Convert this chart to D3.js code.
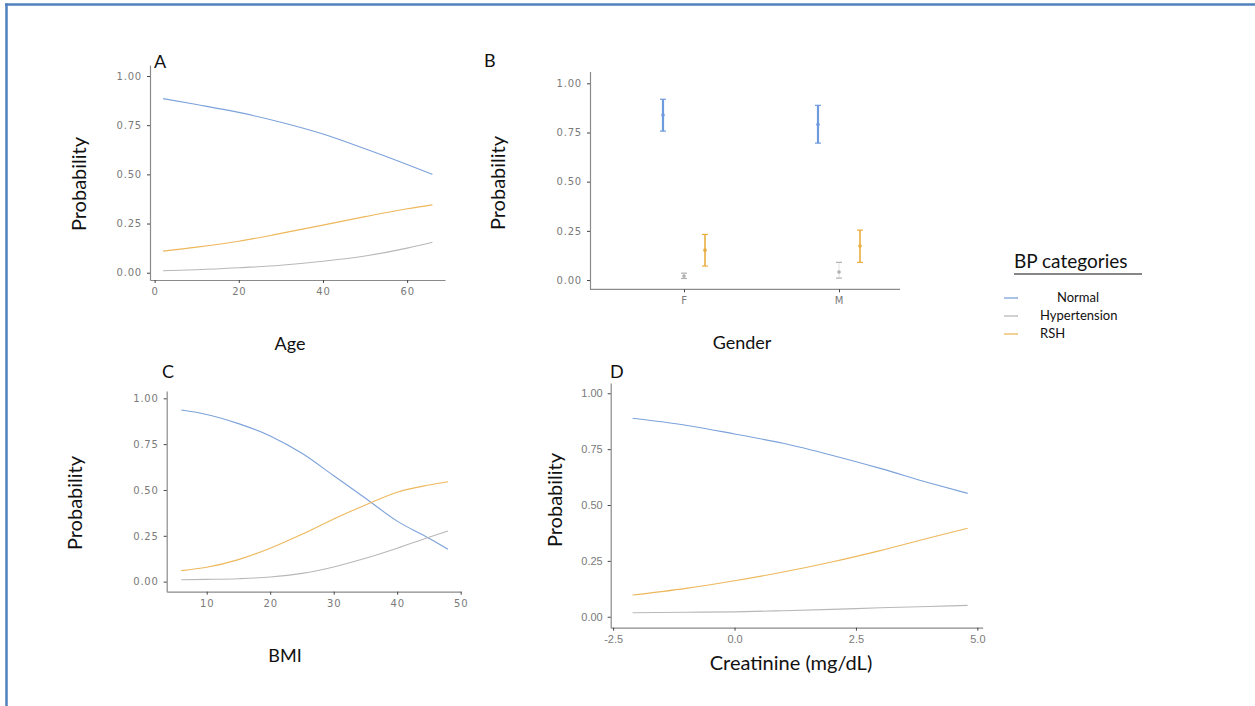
<!DOCTYPE html>
<html>
<head>
<meta charset="utf-8">
<script src="https://cdn.jsdelivr.net/npm/d3@7"></script>
<style>
  html, body { margin: 0; padding: 0; background: #fff; }
  svg { display: block; }
</style>
</head>
<body>
<svg id="fig" width="1255" height="706"></svg>
<script>
// ---- Predicted probabilities by BP category ----
const seriesNames = ["Normal", "Hypertension", "RSH"];
const seriesColors = ["#7ca2da", "#b8b8b8", "#edb85c"];

// A: Age
const ageX      = [2, 10, 20, 30, 40, 50, 60, 66];
const ageNormal = [0.885, 0.855, 0.815, 0.765, 0.705, 0.630, 0.550, 0.500];
const ageHyper  = [0.010, 0.015, 0.025, 0.038, 0.058, 0.085, 0.125, 0.155];
const ageRSH    = [0.110, 0.130, 0.160, 0.200, 0.242, 0.285, 0.325, 0.345];
const ageTicks  = [0, 20, 40, 60];

// B: Gender (mean with lower/upper interval)
const genderCats      = ["F", "M"];
const genderNormalMid = [0.839, 0.791];
const genderNormalLo  = [0.757, 0.696];
const genderNormalHi  = [0.919, 0.888];
const genderHyperMid  = [0.020, 0.041];
const genderHyperLo   = [0.008, 0.010];
const genderHyperHi   = [0.035, 0.090];
const genderRSHMid    = [0.152, 0.173];
const genderRSHLo     = [0.071, 0.090];
const genderRSHHi     = [0.232, 0.254];

// C: BMI
const bmiX      = [6, 10, 15, 20, 25, 30, 35, 40, 45, 48];
const bmiNormal = [0.936, 0.912, 0.862, 0.795, 0.700, 0.578, 0.455, 0.330, 0.237, 0.177];
const bmiHyper  = [0.010, 0.012, 0.016, 0.025, 0.045, 0.080, 0.127, 0.182, 0.242, 0.276];
const bmiRSH    = [0.060, 0.078, 0.120, 0.182, 0.258, 0.342, 0.418, 0.488, 0.527, 0.545];
const bmiTicks  = [10, 20, 30, 40, 50];

// D: Creatinine
const creatX      = [-2.1, -1, 0, 1, 2, 3, 4, 4.8];
const creatNormal = [0.888, 0.857, 0.818, 0.776, 0.723, 0.664, 0.600, 0.552];
const creatHyper  = [0.018, 0.020, 0.022, 0.027, 0.033, 0.040, 0.046, 0.051];
const creatRSH    = [0.097, 0.127, 0.161, 0.200, 0.245, 0.296, 0.352, 0.396];
const creatTicks  = [-2.5, 0, 2.5, 5];

const probTicks = [0, 0.25, 0.5, 0.75, 1];

const svg = d3.select("#fig");
svg.append("rect").attr("width", 1255).attr("height", 706).attr("fill", "#fff");

// page frame
svg.append("line").attr("x1", 5).attr("x2", 1255).attr("y1", 4.5).attr("y2", 4.5)
  .attr("stroke", "#4f81bd").attr("stroke-width", 2.5);
svg.append("line").attr("x1", 6.5).attr("x2", 6.5).attr("y1", 3.5).attr("y2", 706)
  .attr("stroke", "#4f81bd").attr("stroke-width", 2.5);

const titleFont = "Lato, 'Open Sans', sans-serif";

function styleAxis(g, font, size, spacing) {
  g.selectAll(".tick text")
    .attr("fill", "#7a7a7a")
    .style("font-family", font)
    .style("font-size", size + "px")
    .style("letter-spacing", spacing + "px");
  g.select(".domain").attr("stroke", "#8a8a8a").attr("stroke-width", 1.2);
  g.selectAll(".tick line").attr("stroke", "#444").attr("stroke-width", 1);
}

function yAxis(y, p) {
  const g = svg.append("g").attr("transform", `translate(${p.left},0)`)
    .call(d3.axisLeft(y).tickValues(probTicks).tickFormat(d3.format(".2f"))
      .tickSize(3).tickPadding(5).tickSizeOuter(0));
  styleAxis(g, p.tickFont, p.tickSize, p.tickSpacing);
}

function titles(p) {
  svg.append("text").attr("x", p.letterX).attr("y", p.letterY).text(p.letter)
    .style("font-family", titleFont).style("font-size", "18px").attr("fill", "#111");
  svg.append("text")
    .attr("transform", `translate(${p.yTitleX},${p.yTitleY}) rotate(-90)`)
    .attr("text-anchor", "middle").text("Probability")
    .style("font-family", titleFont).style("font-size", "20px").attr("fill", "#111");
  svg.append("text").attr("x", p.xTitleX).attr("y", p.xTitleY)
    .attr("text-anchor", "middle").text(p.xTitle)
    .style("font-family", titleFont).style("font-size", p.xTitleSize + "px").attr("fill", "#111");
}

function linePanel(p, xs, series, ticks, fmt) {
  const x = d3.scaleLinear().domain(p.xDomain).range([p.left, p.right]);
  const y = d3.scaleLinear().domain(p.yDomain).range([p.bottom, p.top]);
  yAxis(y, p);
  const gx = svg.append("g").attr("transform", `translate(0,${p.bottom})`)
    .call(d3.axisBottom(x).tickValues(ticks).tickFormat(fmt)
      .tickSize(3).tickPadding(5).tickSizeOuter(0));
  styleAxis(gx, p.tickFont, p.tickSize, p.tickSpacing);
  const line = d3.line().curve(d3.curveMonotoneX)
    .x((d, i) => x(xs[i])).y(d => y(d));
  series.forEach((vals, k) => {
    svg.append("path").attr("d", line(vals)).attr("fill", "none")
      .attr("stroke", seriesColors[k]).attr("stroke-width", 1.1);
  });
  titles(p);
}

// Panel A
linePanel({
  left: 150, right: 445, top: 65, bottom: 280,
  xDomain: [-1.1, 69], yDomain: [-0.037, 1.056],
  tickFont: "'DejaVu Sans', sans-serif", tickSize: 10, tickSpacing: 0.8,
  letter: "A", letterX: 154, letterY: 68,
  yTitleX: 86, yTitleY: 184, xTitle: "Age", xTitleX: 290, xTitleY: 350, xTitleSize: 18
}, ageX, [ageNormal, ageHyper, ageRSH], ageTicks, d3.format("d"));

// Panel C
linePanel({
  left: 166.7, right: 461, top: 391, bottom: 591.7,
  xDomain: [3.7, 50.05], yDomain: [-0.055, 1.04],
  tickFont: "'DejaVu Sans', sans-serif", tickSize: 10, tickSpacing: 0.8,
  letter: "C", letterX: 162, letterY: 378,
  yTitleX: 82, yTitleY: 503, xTitle: "BMI", xTitleX: 285, xTitleY: 662, xTitleSize: 18
}, bmiX, [bmiNormal, bmiHyper, bmiRSH], bmiTicks, d3.format("d"));

// Panel D
const hyphenFmt = d => d3.format(".1f")(d).replace("\u2212", "-");
linePanel({
  left: 610.7, right: 982.7, top: 383, bottom: 627.7,
  xDomain: [-2.55, 5.11], yDomain: [-0.049, 1.046],
  tickFont: "'Liberation Sans', Arial, sans-serif", tickSize: 11, tickSpacing: 0,
  letter: "D", letterX: 610, letterY: 378,
  yTitleX: 562, yTitleY: 500, xTitle: "Creatinine (mg/dL)", xTitleX: 791, xTitleY: 670, xTitleSize: 20
}, creatX, [creatNormal, creatHyper, creatRSH], creatTicks, hyphenFmt);

// Panel B: point estimates with intervals
(function () {
  const p = {
    left: 590, right: 900, top: 71.5, bottom: 289.3,
    yDomain: [-0.047, 1.06],
    tickFont: "'DejaVu Sans', sans-serif", tickSize: 10, tickSpacing: 0.8,
    letter: "B", letterX: 484, letterY: 67,
    yTitleX: 505, yTitleY: 183, xTitle: "Gender", xTitleX: 742, xTitleY: 349, xTitleSize: 18
  };
  const x = d3.scalePoint().domain(genderCats).range([684, 839]);
  const y = d3.scaleLinear().domain(p.yDomain).range([p.bottom, p.top]);
  const dodge = d3.scalePoint().domain(seriesNames).range([-21, 21]);
  yAxis(y, p);
  const gx = svg.append("g").attr("transform", `translate(0,${p.bottom})`)
    .call(d3.axisBottom(x).tickSize(3).tickPadding(5).tickSizeOuter(0));
  gx.select(".domain").attr("d", `M${p.left},0H${p.right}`);
  styleAxis(gx, p.tickFont, p.tickSize, p.tickSpacing);

  const groups = [
    [genderNormalMid, genderNormalLo, genderNormalHi],
    [genderHyperMid, genderHyperLo, genderHyperHi],
    [genderRSHMid, genderRSHLo, genderRSHHi]
  ];
  const widths = [2.2, 1.2, 1.6];
  const colors = ["#6e9ade", "#b0b0b0", "#e9ad40"];
  groups.forEach(([mid, lo, hi], k) => {
    genderCats.forEach((c, i) => {
      const cx = x(c) + dodge(seriesNames[k]);
      const g = svg.append("g").attr("stroke", colors[k]).attr("stroke-width", widths[k]);
      g.append("line").attr("x1", cx).attr("x2", cx).attr("y1", y(lo[i])).attr("y2", y(hi[i]))
        .attr("stroke-opacity", k === 1 ? 0.3 : 1);
      [lo[i], hi[i]].forEach(v => g.append("line")
        .attr("x1", cx - 3).attr("x2", cx + 3).attr("y1", y(v)).attr("y2", y(v))
        .attr("stroke-width", 1.2));
      svg.append("circle").attr("cx", cx).attr("cy", y(mid[i])).attr("r", 1.8)
        .attr("fill", colors[k]);
    });
  });
  titles(p);
})();

// Legend
const legend = svg.append("g");
legend.append("text").attr("x", 1014).attr("y", 268).text("BP categories")
  .style("font-family", titleFont).style("font-size", "19px").attr("fill", "#111");
legend.append("line").attr("x1", 1014).attr("x2", 1142).attr("y1", 274).attr("y2", 274)
  .attr("stroke", "#111").attr("stroke-width", 1.2);
const legendRows = [298, 316, 334];
const legendTextX = [1057, 1040, 1040];
seriesNames.forEach((name, k) => {
  legend.append("line").attr("x1", 1004).attr("x2", 1018)
    .attr("y1", legendRows[k]).attr("y2", legendRows[k])
    .attr("stroke", seriesColors[k]).attr("stroke-width", 1.3);
  legend.append("text").attr("x", legendTextX[k]).attr("y", legendRows[k] + 4).text(name)
    .style("font-family", titleFont).style("font-size", "13px").attr("fill", "#111");
});
</script>
</body>
</html>
